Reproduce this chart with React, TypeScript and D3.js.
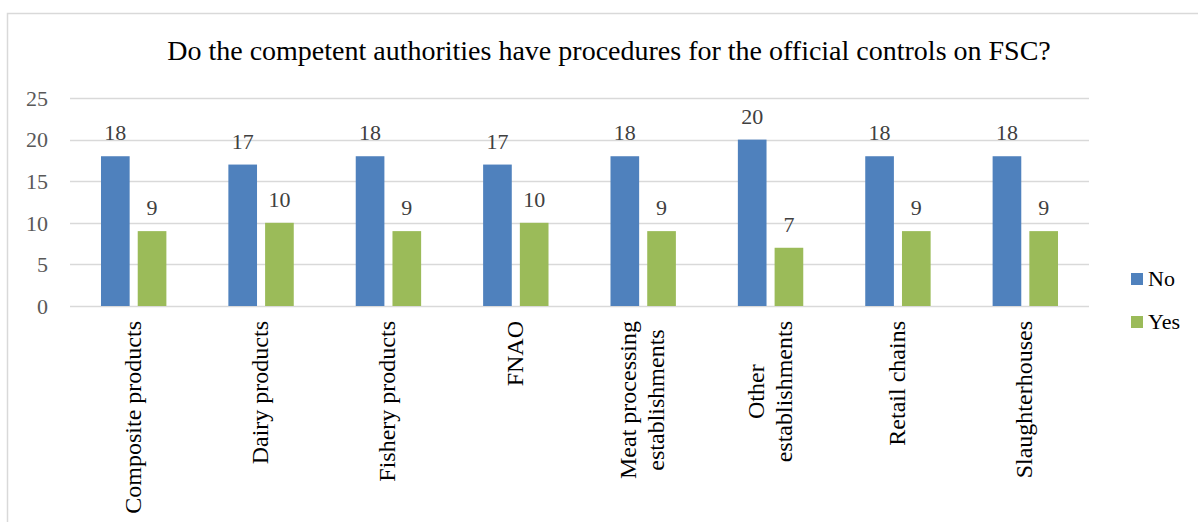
import React, { useEffect, useRef } from "react";
import * as d3 from "d3";

const categories: string[][] = [
  ["Composite products"],
  ["Dairy products"],
  ["Fishery products"],
  ["FNAO"],
  ["Meat processing", "establishments"],
  ["Other", "establishments"],
  ["Retail chains"],
  ["Slaughterhouses"],
];
const seriesNames = ["No", "Yes"];
const noValues = [18, 17, 18, 17, 18, 20, 18, 18];
const yesValues = [9, 10, 9, 10, 9, 7, 9, 9];
const yTicks = [0, 5, 10, 15, 20, 25];
const title = "Do the competent authorities have procedures for the official controls on FSC?";

const colors: Record<string, string> = { No: "#4F81BD", Yes: "#9BBB59" };
const FONT = "'Liberation Serif', 'Times New Roman', serif";

export default function App() {
  const ref = useRef<SVGSVGElement>(null);

  useEffect(() => {
    const svg = d3.select(ref.current);
    svg.selectAll("*").remove();

    const left = 70, right = 1089, top = 98, bottom = 306;

    svg.append("rect")
      .attr("x", 7.5).attr("y", 13.5).attr("width", 1300).attr("height", 520)
      .attr("fill", "#fff").attr("stroke", "#D9D9D9").attr("stroke-width", 1.5);

    const keys = categories.map((c) => c.join(" "));
    const x = d3.scaleBand<string>().domain(keys).range([left, right]).padding(0);
    const bw = x.bandwidth();
    const inner = d3.scaleBand<string>().domain(seriesNames)
      .range([bw * (31 / 127.4), bw * (1 - 31 / 127.4)]).paddingInner(0.22);
    const y = d3.scaleLinear().domain([0, 25]).range([bottom, top]);

    // gridlines
    svg.append("g").selectAll("line").data(yTicks).join("line")
      .attr("x1", left).attr("x2", right)
      .attr("y1", (d) => Math.round(y(d)) + 0.5).attr("y2", (d) => Math.round(y(d)) + 0.5)
      .attr("stroke", "#D9D9D9").attr("stroke-width", 1.5);

    // y tick labels
    svg.append("g").selectAll("text").data(yTicks).join("text")
      .attr("x", 48).attr("y", (d) => y(d))
      .attr("dy", "0.35em")
      .attr("text-anchor", "end")
      .attr("font-family", FONT).attr("font-size", 22).attr("fill", "#595959")
      .text((d) => d);

    // title
    svg.append("text")
      .attr("x", 609).attr("y", 60)
      .attr("text-anchor", "middle")
      .attr("font-family", FONT).attr("font-size", 28).attr("fill", "#000")
      .text(title);

    const data = keys.map((k, i) => ({ key: k, No: noValues[i], Yes: yesValues[i] }));

    const groups = svg.append("g").selectAll("g").data(data).join("g")
      .attr("transform", (d) => `translate(${x(d.key)},0)`);

    seriesNames.forEach((s) => {
      groups.append("rect")
        .attr("x", inner(s)!)
        .attr("y", (d: any) => y(d[s]))
        .attr("width", inner.bandwidth())
        .attr("height", (d: any) => y(0) - y(d[s]))
        .attr("fill", colors[s]);
      groups.append("text")
        .attr("x", inner(s)! + inner.bandwidth() / 2)
        .attr("y", (d: any) => y(d[s]) - 16)
        .attr("text-anchor", "middle")
        .attr("font-family", FONT).attr("font-size", 22).attr("fill", "#404040")
        .text((d: any) => d[s]);
    });

    // x labels
    const labelTop = 321;
    categories.forEach((lines, i) => {
      const cx = x(keys[i])! + bw / 2;
      const g = svg.append("g");
      const texts = lines.map((ln) =>
        g.append("text")
          .attr("font-family", FONT).attr("font-size", 24).attr("fill", "#000")
          .attr("text-anchor", "middle")
          .text(ln)
      );
      const maxLen = d3.max(texts, (t) => (t.node() as SVGTextElement).getComputedTextLength()) || 0;
      const cy = labelTop + maxLen / 2;
      const n = lines.length;
      texts.forEach((t, j) => {
        const bx = cx + 7 + (j - (n - 1) / 2) * 28;
        t.attr("transform", `translate(${bx},${cy}) rotate(-90)`);
      });
    });

    // legend
    seriesNames.forEach((s, i) => {
      const ly = 273 + i * 43;
      svg.append("rect").attr("x", 1131).attr("y", ly).attr("width", 12).attr("height", 12).attr("fill", colors[s]);
      svg.append("text").attr("x", 1148).attr("y", ly + 13)
        .attr("font-family", FONT).attr("font-size", 22).attr("fill", "#000")
        .text(s);
    });
  }, []);

  return (
    <svg ref={ref} width={1198} height={522}
      style={{ position: "absolute", left: 0, top: 0, display: "block" }} />
  );
}
